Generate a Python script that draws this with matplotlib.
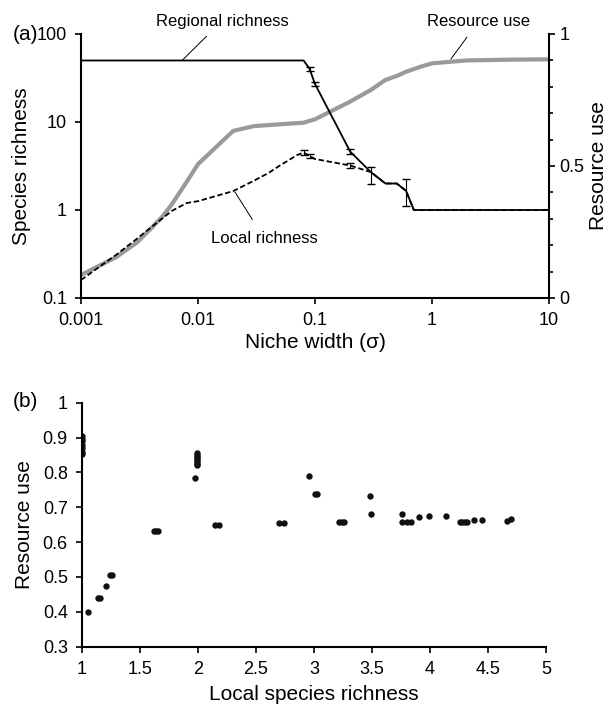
import matplotlib
matplotlib.use('Agg')
import matplotlib.pyplot as plt
import numpy as np

plt.rcParams['font.family'] = ['Liberation Sans', 'DejaVu Sans']

# (a) niche width sweep
regional_x = [0.001, 0.002, 0.005, 0.01, 0.02, 0.05, 0.08, 0.09, 0.1, 0.2, 0.3, 0.4, 0.5, 0.6, 0.7, 1, 2, 5, 10]
regional_y = [50, 50, 50, 50, 50, 50, 50, 40, 27, 4.6, 2.7, 2.0, 2.0, 1.65, 1.0, 1, 1, 1, 1]
regional_err_x = [0.09, 0.1, 0.2, 0.3, 0.6]
regional_err_y = [40, 27, 4.6, 2.6, 1.6]
regional_err_lo = [2, 1.5, 0.3, 0.6, 0.5]
regional_err_hi = [2, 1.5, 0.3, 0.5, 0.65]

local_x = [0.001, 0.002, 0.003, 0.004, 0.005, 0.006, 0.008, 0.01, 0.02, 0.03, 0.04, 0.05, 0.06, 0.07, 0.08, 0.09, 0.1, 0.2, 0.3, 0.4, 0.5, 0.6, 0.7, 1, 2, 5, 10]
local_y = [0.16, 0.31, 0.47, 0.64, 0.81, 0.98, 1.2, 1.26, 1.64, 2.15, 2.63, 3.2, 3.7, 4.2, 4.5, 4.1, 3.8, 3.2, 2.7, 2.0, 2.0, 1.65, 1.0, 1, 1, 1, 1]
local_err_x = [0.08, 0.09, 0.2]
local_err_y = [4.5, 4.1, 3.2]
local_err = [0.25, 0.25, 0.2]

resource_x = [0.001, 0.002, 0.003, 0.004, 0.005, 0.006, 0.008, 0.01, 0.02, 0.03, 0.05, 0.08, 0.1, 0.2, 0.3, 0.4, 0.5, 0.6, 0.8, 1, 2, 5, 10]
resource_y = [0.087, 0.155, 0.21, 0.265, 0.31, 0.356, 0.44, 0.507, 0.633, 0.651, 0.658, 0.664, 0.677, 0.744, 0.788, 0.826, 0.841, 0.857, 0.876, 0.889, 0.90, 0.903, 0.904]

# (b) local richness vs resource use
scatter_x = [1, 1, 1, 1, 1, 1, 1, 1.05, 1.14, 1.16, 1.21, 1.24, 1.26,
             1.62, 1.64, 1.66, 1.99, 1.99, 1.99, 1.99, 1.99, 1.99, 1.99, 1.99, 1.98,
             2.15, 2.18, 2.70, 2.74, 2.96, 3.01, 3.03, 3.22, 3.24, 3.26,
             3.48, 3.49, 3.76, 3.76, 3.80, 3.84, 3.91, 3.99, 4.14,
             4.26, 4.28, 4.30, 4.32, 4.38, 4.45, 4.66, 4.70]
scatter_y = [0.905, 0.895, 0.89, 0.88, 0.87, 0.86, 0.852, 0.40, 0.439, 0.439, 0.474, 0.506, 0.506,
             0.632, 0.632, 0.632, 0.856, 0.85, 0.845, 0.84, 0.835, 0.83, 0.825, 0.82, 0.783,
             0.65, 0.65, 0.655, 0.655, 0.789, 0.737, 0.737, 0.657, 0.657, 0.657,
             0.733, 0.681, 0.68, 0.658, 0.658, 0.658, 0.673, 0.676, 0.674,
             0.659, 0.659, 0.659, 0.659, 0.664, 0.663, 0.661, 0.666]

W, H = 609, 706
fig = plt.figure(figsize=(W / 100, H / 100), dpi=100)

# ---- panel (a) ----
ax1 = fig.add_axes([81 / W, 1 - 298 / H, (549 - 81) / W, (298 - 34) / H])
ax2 = ax1.twinx()
ax1.set_zorder(ax2.get_zorder() + 1)
ax1.patch.set_visible(False)

ax2.plot(resource_x, resource_y, color='#9a9a9a', lw=3, solid_capstyle='butt', zorder=1)
ax2.set_ylim(0, 1)
ax2.set_yticks(np.arange(0, 1.01, 0.5))
ax2.set_yticklabels(['0', '0.5', '1'])
ax2.set_yticks(np.arange(0, 1.01, 0.1), minor=True)

ax1.plot(local_x, local_y, color='black', lw=1.3, ls=(0, (3, 1.5)))
ax1.errorbar(local_err_x, local_err_y, yerr=local_err, fmt='none', ecolor='black', elinewidth=0.8, capsize=3)
ax1.plot(regional_x, regional_y, color='black', lw=1.3)
ax1.errorbar(regional_err_x, regional_err_y, yerr=[regional_err_lo, regional_err_hi], fmt='none',
             ecolor='black', elinewidth=0.8, capsize=3)
ax1.set_xscale('log')
ax1.set_yscale('log')
ax1.set_xlim(0.001, 10)
ax1.set_ylim(0.1, 100)
ax1.set_xticks([0.001, 0.01, 0.1, 1, 10])
ax1.set_xticklabels(['0.001', '0.01', '0.1', '1', '10'])
ax1.set_yticks([0.1, 1, 10, 100])
ax1.set_yticklabels(['0.1', '1', '10', '100'])
ax1.minorticks_off()
ax1.set_xlabel('Niche width (σ)', fontsize=15, labelpad=3)
ax1.set_ylabel('Species richness', fontsize=15, labelpad=4)
ax2.set_ylabel('Resource use', fontsize=15, labelpad=3)

for a in (ax1, ax2):
    a.spines['top'].set_visible(False)
    for s in a.spines.values():
        s.set_linewidth(1.5)
    a.tick_params(which='both', direction='out', width=1.2, labelsize=13)
    a.tick_params(which='major', length=4)
    a.tick_params(which='minor', length=3)
ax1.tick_params(axis='x', pad=6)
ax1.tick_params(axis='y', pad=6)
ax1.spines['right'].set_visible(False)
ax2.spines['left'].set_visible(False)
ax2.spines['bottom'].set_visible(False)

line_kw = dict(arrowstyle='-', color='black', lw=0.7, shrinkB=0)
ax1.annotate('Regional richness', xy=(0.0073, 50), xytext=(0.016, 140),
             fontsize=12, ha='center', va='center', annotation_clip=False,
             arrowprops=dict(shrinkA=5, **line_kw))
ax2.annotate('Resource use', xy=(1.45, 0.905), xytext=(2.5, 1.048),
             fontsize=12, ha='center', va='center', annotation_clip=False,
             arrowprops=dict(shrinkA=5, **line_kw))
ax1.annotate('Local richness', xy=(0.0207, 1.6), xytext=(0.0367, 0.48),
             fontsize=12, ha='center', va='center',
             arrowprops=dict(shrinkA=7, **line_kw))
fig.text(13 / W, 1 - 35 / H, '(a)', fontsize=15, ha='left', va='center')

# ---- panel (b) ----
ax3 = fig.add_axes([81.7 / W, 1 - 646.7 / H, (546 - 81.7) / W, (646.7 - 402.7) / H])
ax3.plot(scatter_x, scatter_y, 'o', color='#111111', ms=4.6, mew=0)
ax3.set_xlim(1, 5)
ax3.set_ylim(0.3, 1)
ax3.set_xticks(np.arange(1, 5.01, 0.5))
ax3.set_xticklabels(['1', '1.5', '2', '2.5', '3', '3.5', '4', '4.5', '5'])
ax3.set_yticks(np.arange(0.3, 1.01, 0.1))
ax3.set_yticklabels(['0.3', '0.4', '0.5', '0.6', '0.7', '0.8', '0.9', '1'])
ax3.spines['top'].set_visible(False)
ax3.spines['right'].set_visible(False)
for s in ax3.spines.values():
    s.set_linewidth(1.5)
ax3.tick_params(direction='out', length=4, width=1.2, labelsize=13, pad=6)
ax3.set_xlabel('Local species richness', fontsize=15, labelpad=5)
ax3.set_ylabel('Resource use', fontsize=15, labelpad=6)
fig.text(13 / W, 1 - 402 / H, '(b)', fontsize=15, ha='left', va='center')

fig.savefig('out.png', dpi=100)
plt.close('all')
